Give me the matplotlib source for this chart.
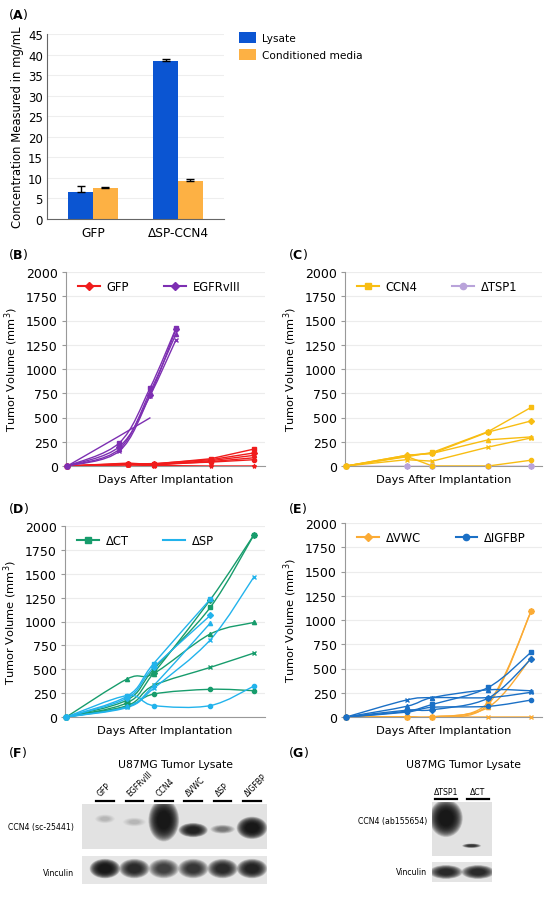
import numpy as np
import matplotlib
matplotlib.use("Agg")
import matplotlib.pyplot as plt
from matplotlib.path import Path
from matplotlib.patches import PathPatch, Ellipse
from matplotlib.lines import Line2D

plt.rcParams['font.family'] = ['DejaVu Sans']
plt.rcParams['mathtext.fontset'] = 'dejavusans'

# ---- data: panel A ----
groups_a = ['GFP', 'ΔSP-CCN4']
lysate = [6.5, 38.5]
lysate_err = [1.5, 0.4]
media = [7.5, 9.2]
media_err = [0.2, 0.6]

# ---- data: tumour growth (days after implantation) ----
days = [0, 14, 20, 33, 43]
days_egfr = [0, 12, 19, 25]

gfp = [[0, 25, 20, 75, 175],
       [0, 20, 25, 65, 135],
       [0, 30, 15, 55, 110],
       [0, 15, 10, 45, 85],
       [0, 20, 20, 40, 65],
       [0, 10, 5, 0, 0]]
egfr = [[0, 240, 800, 1420],
        [0, 200, 730, 1410],
        [0, 175, 760, 1360],
        [0, 155, 720, 1300]]
egfr_short = [[0, 310, 495]]

ccn4 = [[0, 95, 140, 355, 605],
        [0, 110, 130, 350, 465],
        [0, 110, 130, 270, 300],
        [0, 65, 50, 195, 290],
        [0, 100, 0, 0, 60]]
tsp1 = [[0, 0, 0, 0, 0],
        [0, 0, 0, 0, 0]]

dct = [[0, 180, 500, 1150, 1910],
       [0, 150, 460, 1230, 1910],
       [0, 400, 455, 870, 990],
       [0, 120, 330, 520, 670],
       [0, 110, 240, 290, 275]]
dsp = [[0, 220, 560, 1235],
       [0, 200, 520, 1065],
       [0, 110, 330, 985],
       [0, 100, 300, 810, 1470],
       [0, 225, 120, 120, 325]]

vwc = [[0, 0, 0, 150, 1090],
       [0, 0, 0, 130, 1095],
       [0, 0, 0, 100, 610],
       [0, 0, 0, 0, 0]]
igfbp = [[0, 60, 130, 305, 670],
         [0, 70, 75, 195, 600],
         [0, 110, 200, 280, 270],
         [0, 175, 200, 200, 255],
         [0, 50, 100, 110, 175]]

# ---- data: western blots (band darkness 0..1) ----
lanes_f = ['GFP', 'EGFRvIII', 'CCN4', 'ΔVWC', 'ΔSP', 'ΔIGFBP']
ccn4_f = [0.14, 0.18, 1.0, 0.95, 0.5, 1.0]
vinc_f = [1.0, 0.9, 0.8, 0.85, 0.9, 0.95]
lanes_g = ['ΔTSP1', 'ΔCT']
ccn4_g = [1.0, 0.85]
vinc_g = [0.9, 0.9]

W, H = 550, 904
fig = plt.figure(figsize=(W / 100, H / 100), dpi=100)


def px_axes(l, t, r, b):
    return fig.add_axes([l / W, 1 - b / H, (r - l) / W, (b - t) / H])


def panel_label(x, y, letter):
    fig.text(x / W, 1 - y / H, r'($\mathbf{%s}$)' % letter, fontsize=9, va='center')


def smooth_path(x, y):
    verts = [(x[0], y[0])]
    codes = [Path.MOVETO]
    n = len(x)
    for i in range(n - 1):
        p0 = i - 1 if i > 0 else i
        p3 = i + 2 if i + 2 < n else i + 1
        c1 = (x[i] + (x[i + 1] - x[p0]) / 6, y[i] + (y[i + 1] - y[p0]) / 6)
        c2 = (x[i + 1] - (x[p3] - x[i]) / 6, y[i + 1] - (y[p3] - y[i]) / 6)
        verts += [c1, c2, (x[i + 1], y[i + 1])]
        codes += [Path.CURVE4] * 3
    return Path(verts, codes)


markers = ['s', 'D', '^', 'x', 'o', '*']


def draw_mice(ax, x, series, color, smooth=True, marker_on=True):
    for k, vals in enumerate(series):
        xs = x[:len(vals)]
        if smooth:
            ax.add_patch(PathPatch(smooth_path(xs, vals), fill=False,
                                   edgecolor=color, lw=1.0, zorder=3))
        else:
            ax.plot(xs, vals, color=color, lw=1.0, zorder=3)
        if marker_on:
            ax.plot(xs, vals, ls='none', marker=markers[k % len(markers)],
                    ms=3, color=color, mew=1, zorder=4, clip_on=False)


def style_growth(ax):
    ax.set_xlim(-0.3, 45.5)
    ax.set_ylim(0, 2000)
    ax.set_yticks(np.arange(0, 2001, 250))
    ax.set_xticks([])
    ax.grid(axis='y', color='#ececec', lw=0.8)
    ax.set_axisbelow(True)
    for s in ['top', 'right']:
        ax.spines[s].set_visible(False)
    ax.spines['left'].set_color('#999999')
    ax.spines['bottom'].set_color('#999999')
    ax.tick_params(axis='y', labelsize=9, length=3, color='#999999', pad=3)
    ax.set_xlabel('Days After Implantation', fontsize=8.2, labelpad=6)
    ax.set_ylabel('Tumor Volume (mm$^3$)', fontsize=8.2, labelpad=4)


def growth_legend(ax, entries):
    handles = [Line2D([], [], color=c, marker=m, ms=4.5, lw=1.5) for c, m in entries[1]]
    ax.legend(handles, entries[0], loc='upper left', ncol=2, frameon=False,
              fontsize=8.3, handlelength=1.9, columnspacing=3.0,
              handletextpad=0.6, bbox_to_anchor=(0.02, 1.0), borderaxespad=0.3)


# ---------------- A ----------------
blue_a, orange_a = '#0b55d2', '#fdb144'
ax = px_axes(47, 35, 224, 220)
xa = np.arange(len(groups_a))
bw = 0.29
ax.bar(xa - bw / 2, lysate, bw, color=blue_a, label='Lysate',
       yerr=[[0] * 2, lysate_err], capsize=3, error_kw=dict(lw=1, capthick=1))
ax.bar(xa + bw / 2, media, bw, color=orange_a, label='Conditioned media',
       yerr=[[0] * 2, media_err], capsize=3, error_kw=dict(lw=1, capthick=1))
ax.set_xlim(-0.54, 1.54)
ax.set_ylim(0, 45)
ax.set_yticks(np.arange(0, 46, 5))
ax.set_xticks(xa)
ax.set_xticklabels(groups_a, fontsize=8.7)
ax.tick_params(axis='x', length=0, pad=5)
ax.tick_params(axis='y', labelsize=8.5, length=0, pad=3)
ax.grid(axis='y', color='#eeeeee', lw=0.8)
ax.set_axisbelow(True)
for s in ['top', 'right']:
    ax.spines[s].set_visible(False)
ax.spines['left'].set_color('#666666')
ax.spines['bottom'].set_color('#666666')
ax.set_ylabel('Concentration Measured in mg/mL', fontsize=8.4, labelpad=3)
ax.legend(loc='upper left', bbox_to_anchor=(1.03, 1.06), frameon=False,
          fontsize=7.6, handlelength=1.6, handleheight=1.2, labelspacing=0.55,
          handletextpad=0.6)
panel_label(8, 15, 'A')

# ---------------- B ----------------
ax = px_axes(66, 273, 265, 467)
draw_mice(ax, days, gfp, '#f01c1c', smooth=False)
draw_mice(ax, days_egfr, egfr, '#7d2fb2', smooth=True)
draw_mice(ax, days_egfr, egfr_short, '#7d2fb2', smooth=False, marker_on=False)
style_growth(ax)
growth_legend(ax, (['GFP', 'EGFRvIII'], [('#f01c1c', 'D'), ('#7d2fb2', 'D')]))
panel_label(8, 255, 'B')

# ---------------- C ----------------
ax = px_axes(345, 273, 542, 467)
draw_mice(ax, days, tsp1, '#b9a3da', smooth=False)
draw_mice(ax, days, ccn4, '#f8bd12', smooth=False)
style_growth(ax)
growth_legend(ax, (['CCN4', 'ΔTSP1'], [('#f8bd12', 's'), ('#b9a3da', 'o')]))
panel_label(288, 255, 'C')

# ---------------- D ----------------
ax = px_axes(65, 527, 265, 718)
draw_mice(ax, days, dct, '#179c6c', smooth=True)
draw_mice(ax, days, dsp, '#22b3ec', smooth=True)
style_growth(ax)
growth_legend(ax, (['ΔCT', 'ΔSP'], [('#179c6c', 's'), ('#22b3ec', None)]))
panel_label(8, 508, 'D')

# ---------------- E ----------------
ax = px_axes(345, 524, 542, 718)
draw_mice(ax, days, vwc, '#fbab35', smooth=True)
draw_mice(ax, days, igfbp, '#1b70c6', smooth=True)
style_growth(ax)
growth_legend(ax, (['ΔVWC', 'ΔIGFBP'], [('#fbab35', 'D'), ('#1b70c6', 'o')]))
panel_label(288, 508, 'E')


# ---------------- blots ----------------
def band(ax, x, y, w, h, dark):
    # soft-edged band built from stacked translucent ellipses
    n = 22
    a = 1 - (1 - 0.92 * dark) ** (1 / n)
    for s in np.linspace(1.0, 0.4, n):
        ax.add_patch(Ellipse((x, y), w * s, h * s, color='#0c0c0c',
                             alpha=a, lw=0))


def membrane(ax, xlim, shade):
    ax.set_xlim(*xlim)
    ax.set_ylim(0, 1)
    ax.set_facecolor(shade)
    ax.set_xticks([])
    ax.set_yticks([])
    for s in ax.spines.values():
        s.set_visible(False)


# F
ax = px_axes(82, 805, 267, 850)
membrane(ax, (-0.78, 5.51), '#e2e2e2')
ccn4_y = [0.67, 0.6, 0.64, 0.42, 0.44, 0.47]
ccn4_w = [0.7, 0.8, 1.05, 1.0, 0.85, 1.05]
ccn4_h = [0.2, 0.2, 0.95, 0.32, 0.2, 0.5]
for i, d in enumerate(ccn4_f):
    band(ax, i, ccn4_y[i], ccn4_w[i], ccn4_h[i], d)
tr = ax.get_xaxis_transform()
for i, name in enumerate(lanes_f):
    ax.plot([i - 0.3, i + 0.3], [1.07, 1.07], color='black', lw=1.6,
            transform=tr, clip_on=False)
    ax.text(i - 0.3, 1.14, name, rotation=45, ha='left', va='bottom',
            fontsize=5.6, transform=tr)
fig.text(74 / W, 1 - 828 / H, 'CCN4 (sc-25441)', ha='right', va='center', fontsize=5.6)

ax = px_axes(82, 857, 267, 885)
membrane(ax, (-0.78, 5.51), '#e6e6e6')
for i, d in enumerate(vinc_f):
    band(ax, i, 0.55, 1.05, 0.7, d)
fig.text(74 / W, 1 - 874 / H, 'Vinculin', ha='right', va='center', fontsize=5.6)
fig.text(175 / W, 1 - 765 / H, 'U87MG Tumor Lysate', ha='center', va='center', fontsize=7.8)
panel_label(8, 753, 'F')

# G
ax = px_axes(432, 803, 492, 857)
membrane(ax, (-0.44, 1.44), '#e2e2e2')
band(ax, 0, 0.7, 1.05, 0.7, ccn4_g[0])
band(ax, 0.8, 0.19, 0.6, 0.08, ccn4_g[1])
tr = ax.get_xaxis_transform()
for i, name in enumerate(lanes_g):
    ax.plot([i - 0.35, i + 0.35], [1.055, 1.055], color='black', lw=1.6,
            transform=tr, clip_on=False)
    ax.text(i, 1.12, name, ha='center', va='bottom', fontsize=5.6, transform=tr)
fig.text(427 / W, 1 - 822 / H, 'CCN4 (ab155654)', ha='right', va='center', fontsize=5.6)

ax = px_axes(432, 863, 492, 883)
membrane(ax, (-0.44, 1.44), '#e4e4e4')
for i, d in enumerate(vinc_g):
    band(ax, i, 0.5, 1.05, 0.7, d)
fig.text(427 / W, 1 - 873 / H, 'Vinculin', ha='right', va='center', fontsize=5.6)
fig.text(463 / W, 1 - 765 / H, 'U87MG Tumor Lysate', ha='center', va='center', fontsize=7.8)
panel_label(288, 753, 'G')

fig.savefig('out.png', dpi=100, facecolor='white')
